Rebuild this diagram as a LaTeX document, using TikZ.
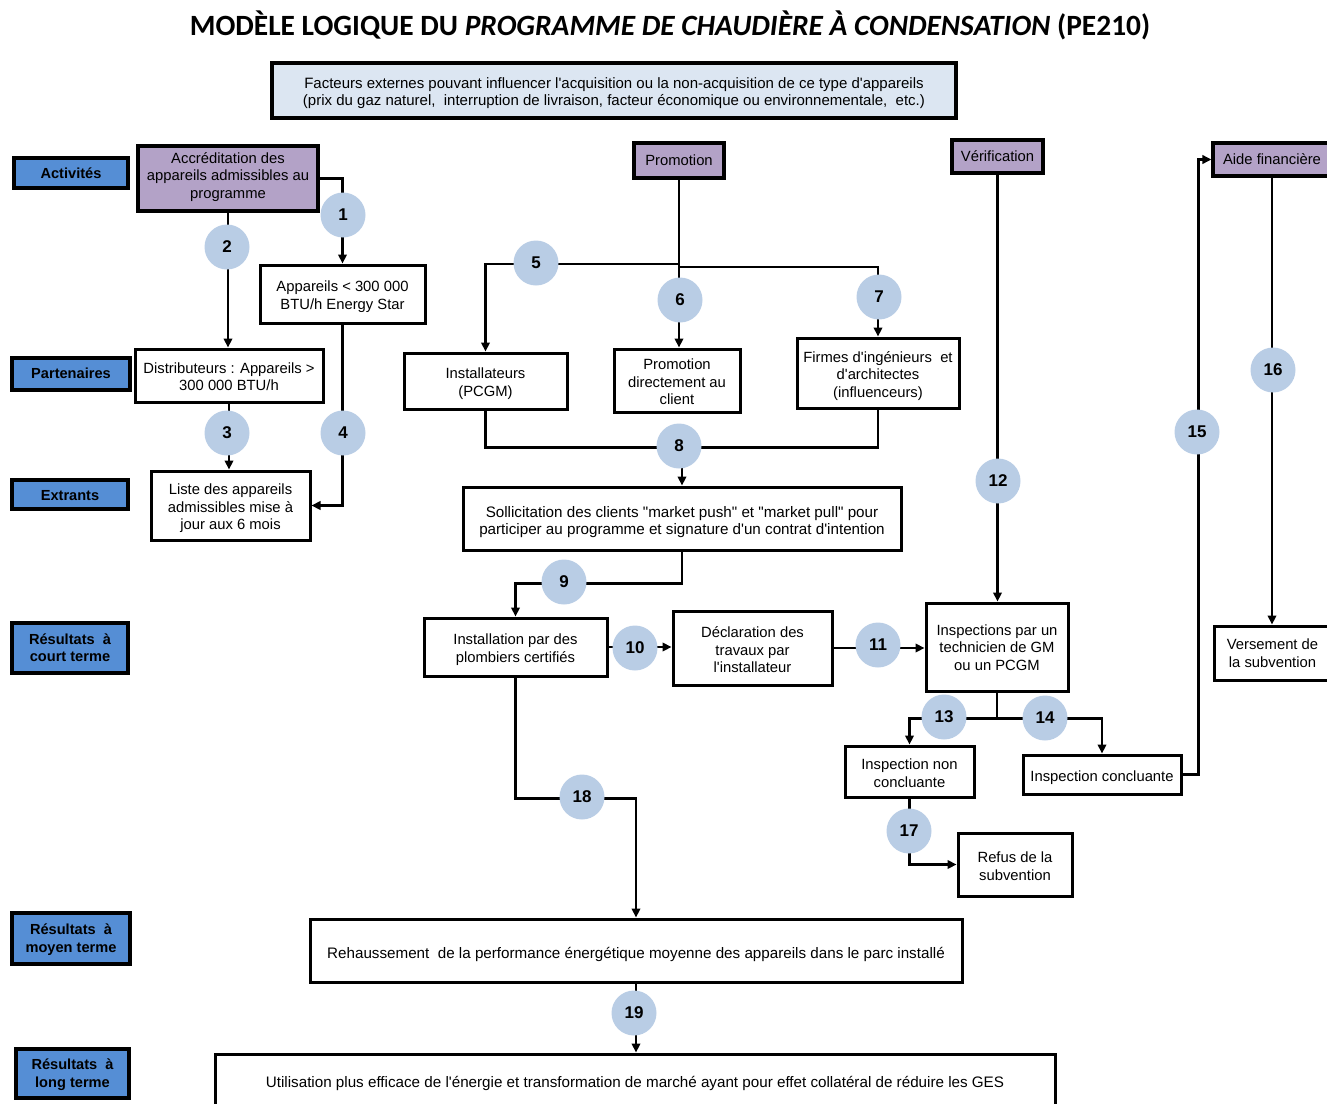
\documentclass[tikz,border=0pt]{standalone}
\usepackage{fontspec}
\setmainfont{Liberation Sans}
\newfontfamily\bodyfont{Liberation Sans}
\newfontfamily\titlefont{Carlito}
\usetikzlibrary{arrows.meta}
\definecolor{lblblue}{HTML}{558ED5}
\definecolor{hdrpurple}{HTML}{B3A2C7}
\definecolor{numblue}{HTML}{B9CDE5}
\definecolor{extfill}{HTML}{DCE6F2}
% text block lowered by #1 while keeping its natural extents
\newcommand\tx[2][3pt]{\raisebox{-#1}[\height][\depth]{\begin{tabular}{@{}c@{}}#2\end{tabular}}}
\begin{document}
\begin{tikzpicture}[x=1pt,y=-1pt,
  txt/.style={font=\bodyfont\fontsize{14.8}{17.5}\selectfont, align=center},
  wide/.style={font=\bodyfont\fontsize{15.2}{17.5}\selectfont},
  box/.style={txt, draw, line width=3pt, fill=white, inner sep=2pt},
  hdr/.style={box, fill=hdrpurple, line width=3.2pt},
  lbl/.style={draw, line width=3.8pt, fill=lblblue, align=center, font=\bodyfont\bfseries\fontsize{14.6}{17.5}\selectfont, inner sep=1pt},
  num/.style={circle, fill=numblue, minimum size=45pt, inner sep=0pt, font=\bodyfont\bfseries\fontsize{17}{17}\selectfont},
  conn/.style={line width=2.2pt, -{Triangle[length=9pt,width=8.5pt]}},
  link/.style={line width=2.2pt}
]
\useasboundingbox (0,0) rectangle (1327,1103);

% title
\node[font=\titlefont\bfseries\fontsize{29.4}{34}\selectfont] (title) at (670,25)
  {MODÈLE LOGIQUE DU \textit{PROGRAMME DE CHAUDIÈRE À CONDENSATION} (PE210)};

% external factors
\node[box, fill=extfill, line width=3.2pt, minimum width=684, minimum height=55,
  font=\bodyfont\fontsize{15}{16.5}\selectfont] (ext) at (614,90.5)
  {\tx{Facteurs externes pouvant influencer l'acquisition ou la non-acquisition de ce type d'appareils\\
   (prix du gaz naturel,\ \ interruption de livraison, facteur économique ou environnementale,\ \ etc.)}};

% row labels
\node[lbl, minimum width=114, minimum height=30] (act) at (71,173) {\tx[2pt]{Activités}};
\node[lbl, minimum width=118, minimum height=32] (part) at (71,374) {\tx[1pt]{Partenaires}};
\node[lbl, minimum width=116, minimum height=29] (extr) at (70,494.5) {\tx[2.5pt]{Extrants}};
\node[lbl, minimum width=116, minimum height=50] (court) at (70,648) {\tx[1.5pt]{Résultats\ \ à\\court terme}};
\node[lbl, minimum width=118, minimum height=51] (moyen) at (71,938.5) {\tx[1.5pt]{Résultats\ \ à\\moyen terme}};
\node[lbl, minimum width=113, minimum height=49] (long) at (72.5,1073.5) {\tx[1.5pt]{Résultats\ \ à\\long terme}};

% headers
\node[hdr, minimum width=180, minimum height=65] (accr) at (228,178.5) {\tx[-1.5pt]{Accréditation des\\appareils admissibles au\\programme}};
\node[hdr, minimum width=90, minimum height=35] (promo) at (679,160.5) {\tx[1.5pt]{Promotion}};
\node[hdr, minimum width=91, minimum height=33] (verif) at (997.5,156.5) {\tx[1pt]{Vérification}};
\node[hdr, minimum width=118, minimum height=33] (aide) at (1272,159.5) {\tx[1.5pt]{Aide financière}};

% boxes
\node[box, minimum width=165, minimum height=58] (app) at (342.5,294) {\tx{Appareils < 300 000\\BTU/h Energy Star}};
\node[box, minimum width=188, minimum height=53] (dist) at (229,375.5) {\tx{Distributeurs : Appareils >\\300 000 BTU/h}};
\node[box, minimum width=159, minimum height=69] (liste) at (230.5,505.5) {\tx{Liste des appareils\\admissibles mise à\\jour aux 6 mois}};
\node[box, minimum width=163, minimum height=56] (inst) at (485.5,381) {\tx{Installateurs\\(PCGM)}};
\node[box, minimum width=126, minimum height=63] (promdir) at (677,380.5) {\tx{Promotion\\directement au\\client}};
\node[box, minimum width=162, minimum height=70] (firm) at (878,373) {\tx{Firmes d'ingénieurs\ \ et\\d'architectes\\(influenceurs)}};
\node[box, wide, minimum width=438, minimum height=63] (soll) at (682,518.5) {\tx[4pt]{Sollicitation des clients "market push" et "market pull" pour\\participer au programme et signature d'un contrat d'intention}};
\node[box, minimum width=183, minimum height=58] (instal) at (515.5,647) {\tx{Installation par des\\plombiers certifiés}};
\node[box, minimum width=159, minimum height=74] (decl) at (752.5,648) {\tx[3.5pt]{Déclaration des\\travaux par\\l'installateur}};
\node[box, minimum width=142, minimum height=88] (insp) at (997,647) {\tx[2pt]{Inspections par un\\technicien de GM\\ou un PCGM}};
\node[box, minimum width=129, minimum height=51] (nonc) at (909.5,771.5) {\tx[3.5pt]{Inspection non\\concluante}};
\node[box, minimum width=158, minimum height=39] (conc) at (1102,774.5) {\tx[3.5pt]{Inspection concluante}};
\node[box, minimum width=114, minimum height=63] (refus) at (1015,864.5) {\tx[3.5pt]{Refus de la\\subvention}};
\node[box, minimum width=117, minimum height=54] (vers) at (1272.5,653) {\tx[2pt]{Versement de\\la subvention}};
\node[box, wide, minimum width=652, minimum height=63] (reh) at (636,950.5) {\tx[4pt]{Rehaussement\ \ de la performance énergétique moyenne des appareils dans le parc installé}};
\node[box, wide, minimum width=840, minimum height=58] (util) at (635,1083) {\tx[1pt]{Utilisation plus efficace de l'énergie et transformation de marché ayant pour effet collatéral de réduire les GES}};

% connectors
\draw[conn] (accr.east) -| (app.north);
\draw[conn] (accr.south) -- (accr.south |- dist.north);
\draw[conn] (dist.south) -- (dist.south |- liste.north);
\draw[conn] (app.south) |- (liste.east);
\draw[conn] (promo.south) -- (promo.south |- promdir.north);
\draw[conn] (promo.south |- 0,264) -| (inst.north);
\draw[conn] (promo.south |- 0,267) -| (firm.north);
\draw[link] (inst.south) -- ++(0,37) -| (firm.south);
\draw[conn] (soll.north |- 0,446) -- (soll.north);
\draw[conn] (soll.south) -- ++(0,32) -| (instal.north);
\draw[conn] (instal.east) -- (instal.east -| decl.west);
\draw[conn] (decl.east) -- (decl.east -| insp.west);
\draw[conn] (verif.south) -- (verif.south |- insp.north);
\draw[link] (insp.south) -- ++(0,26) coordinate (j13);
\draw[conn] (j13) -| (nonc.north);
\draw[conn] (j13) -| (conc.north);
\draw[conn] (conc.east) -- ++(16,0) |- (aide.west);
\draw[conn] (aide.south) -- (aide.south |- vers.north);
\draw[conn] (nonc.south) |- (refus.west);
\draw[conn] (instal.south) -- ++(0,121) -| (reh.north);
\draw[conn] (reh.south) -- (reh.south |- util.north);

% numbered circles
\node[num] (n1) at (343,215) {1};
\node[num] (n2) at (227,247) {2};
\node[num] (n3) at (227,433) {3};
\node[num] (n4) at (343,433) {4};
\node[num] (n5) at (536,263) {5};
\node[num] (n6) at (680,300) {6};
\node[num] (n7) at (879,297) {7};
\node[num] (n8) at (679,446) {8};
\node[num] (n9) at (564,582) {9};
\node[num] (n10) at (635,648) {10};
\node[num] (n11) at (878,645) {11};
\node[num] (n12) at (998,481) {12};
\node[num] (n13) at (944,717) {13};
\node[num] (n14) at (1045,718) {14};
\node[num] (n15) at (1197,432) {15};
\node[num] (n16) at (1273,370) {16};
\node[num] (n17) at (909,831) {17};
\node[num] (n18) at (582,797) {18};
\node[num] (n19) at (634,1013) {19};
\end{tikzpicture}
\end{document}
